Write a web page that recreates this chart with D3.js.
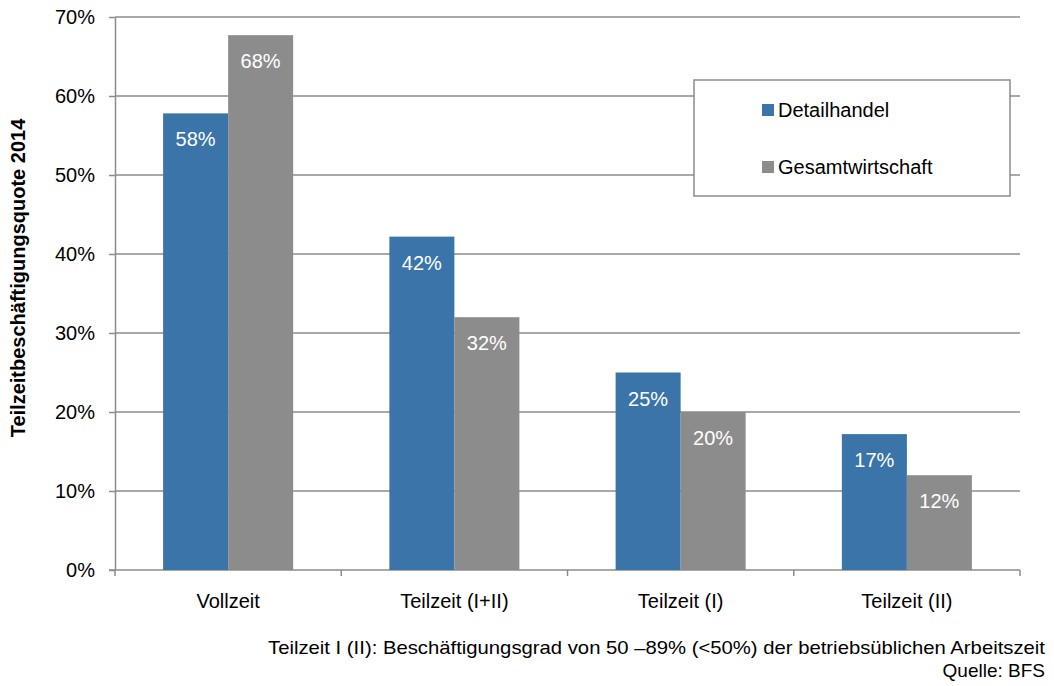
<!DOCTYPE html>
<html>
<head>
<meta charset="UTF-8" />
<title>Teilzeitbeschäftigungsquote 2014</title>
<script src="https://d3js.org/d3.v7.min.js"></script>
<style>
  body { margin: 0; background: #fff; }
  text { font-family: "Liberation Sans", Arial, sans-serif; }
</style>
</head>
<body>
<script type="text/javascript">
var categories = ["Vollzeit", "Teilzeit (I+II)", "Teilzeit (I)", "Teilzeit (II)"];
var seriesNames = ["Detailhandel", "Gesamtwirtschaft"];
var detailhandel = [57.8, 42.2, 25.0, 17.2];
var gesamtwirtschaft = [67.7, 32.0, 20.0, 12.0];
var labelsDetail = ["58%", "42%", "25%", "17%"];
var labelsGesamt = ["68%", "32%", "20%", "12%"];
var yTicks = [0, 10, 20, 30, 40, 50, 60, 70];
var colors = ["#3a74a8", "#8c8c8c"];

var width = 1054, height = 686;
var mLeft = 115, mRight = 1020, mTop = 17, mBottom = 570;

var svg = d3.select("body").append("svg").attr("width", width).attr("height", height);

var x = d3.scaleBand().domain(categories).range([mLeft, mRight]).paddingInner(0).paddingOuter(0);
var y = d3.scaleLinear().domain([0, 70]).range([mBottom, mTop]);
var inner = d3.scaleBand().domain(seriesNames).range([0, x.bandwidth()]).paddingOuter(0.74).paddingInner(0);

// gridlines
svg.append("g").selectAll("line").data(yTicks.filter(function(d){ return d > 0; })).enter()
  .append("line")
  .attr("x1", mLeft).attr("x2", mRight)
  .attr("y1", function(d){ return y(d); }).attr("y2", function(d){ return y(d); })
  .attr("stroke", "#8c8c8c").attr("stroke-width", 1.3);

// y axis
var yAxis = d3.axisLeft(y).tickValues(yTicks).tickSize(6).tickSizeOuter(0).tickFormat(function(d){ return d + "%"; });
var gy = svg.append("g").attr("transform", "translate(" + mLeft + ",0)").call(yAxis);
gy.select(".domain").attr("stroke", "#8c8c8c").attr("stroke-width", 1.5);
gy.selectAll(".tick line").attr("stroke", "#8c8c8c").attr("stroke-width", 1.5);
gy.selectAll(".tick text").attr("x", -20).attr("font-size", 20).attr("fill", "#000")
  .style("font-family", "Liberation Sans, Arial, sans-serif");

// x axis line + ticks at band boundaries
svg.append("line").attr("x1", mLeft - 6).attr("x2", mRight).attr("y1", mBottom).attr("y2", mBottom)
  .attr("stroke", "#8c8c8c").attr("stroke-width", 1.5);
var bounds = categories.map(function(c){ return x(c); }).concat([mRight]);
svg.append("g").selectAll("line").data(bounds).enter().append("line")
  .attr("x1", function(d){ return d; }).attr("x2", function(d){ return d; })
  .attr("y1", mBottom).attr("y2", mBottom + 6)
  .attr("stroke", "#8c8c8c").attr("stroke-width", 1.5);
svg.append("g").selectAll("text").data(categories).enter().append("text")
  .attr("x", function(d){ return x(d) + x.bandwidth() / 2; })
  .attr("y", 608).attr("text-anchor", "middle").attr("font-size", 20).attr("fill", "#000")
  .text(function(d){ return d; });

// bars
var series = [detailhandel, gesamtwirtschaft];
var labels = [labelsDetail, labelsGesamt];
series.forEach(function(vals, s){
  var g = svg.append("g");
  g.selectAll("rect").data(vals).enter().append("rect")
    .attr("x", function(d, i){ return x(categories[i]) + inner(seriesNames[s]); })
    .attr("width", inner.bandwidth())
    .attr("y", function(d){ return y(d); })
    .attr("height", function(d){ return y(0) - y(d); })
    .attr("fill", colors[s]);
  g.selectAll("text").data(vals).enter().append("text")
    .attr("x", function(d, i){ return x(categories[i]) + inner(seriesNames[s]) + inner.bandwidth() / 2; })
    .attr("y", function(d){ return y(d) + 33; })
    .attr("text-anchor", "middle").attr("font-size", 20).attr("fill", "#fff")
    .text(function(d, i){ return labels[s][i]; });
});

// legend
var lg = svg.append("g").attr("transform", "translate(694,80)");
lg.append("rect").attr("width", 316).attr("height", 116).attr("fill", "#fff")
  .attr("stroke", "#8c8c8c").attr("stroke-width", 1.5);
seriesNames.forEach(function(n, i){
  lg.append("rect").attr("x", 68).attr("y", 24 + i * 57).attr("width", 12).attr("height", 12).attr("fill", colors[i]);
  lg.append("text").attr("x", 84).attr("y", 37 + i * 57).attr("font-size", 20).attr("fill", "#000").text(n);
});

// y axis title
svg.append("text").attr("transform", "translate(25,278) rotate(-90)")
  .attr("text-anchor", "middle").attr("font-size", 20).attr("font-weight", "bold").attr("fill", "#000")
  .text("Teilzeitbeschäftigungsquote 2014");

// notes
svg.append("text").attr("x", 1045).attr("y", 654).attr("text-anchor", "end")
  .attr("font-size", 19).attr("fill", "#000").attr("textLength", 777).attr("lengthAdjust", "spacingAndGlyphs")
  .text("Teilzeit I (II): Beschäftigungsgrad von 50 –89% (<50%) der betriebsüblichen Arbeitszeit");
svg.append("text").attr("x", 1045).attr("y", 677).attr("text-anchor", "end")
  .attr("font-size", 19).attr("fill", "#000")
  .text("Quelle: BFS");
</script>
</body>
</html>
